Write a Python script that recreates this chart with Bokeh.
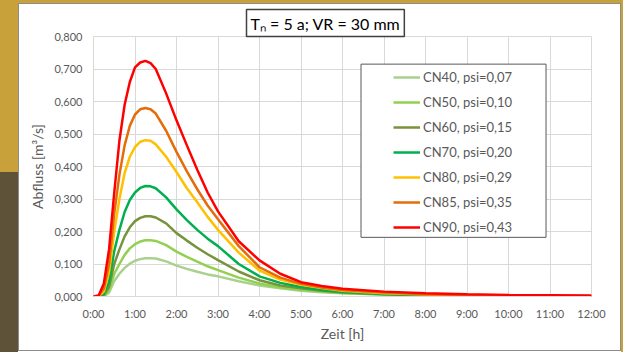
from bokeh.plotting import figure
from bokeh.models import Legend, LegendItem, FixedTicker, BoxAnnotation
from bokeh.embed import file_html
from bokeh.resources import INLINE

# ---------------- data ----------------
hours = [0, 0.125, 0.25, 0.375, 0.5, 0.625, 0.75, 0.875, 1.0, 1.125, 1.25, 1.375, 1.5,
         1.75, 2.0, 2.25, 2.5, 2.75, 3.0, 3.5, 4.0, 4.5, 5.0, 5.5, 6.0, 7.0, 8.0, 9.0,
         10.0, 11.0, 12.0]

cn40 = [0, 0, 0.001, 0.012, 0.048, 0.070, 0.088, 0.101, 0.110, 0.115, 0.118, 0.118, 0.117,
        0.108, 0.095, 0.085, 0.076, 0.068, 0.062, 0.047, 0.034, 0.025, 0.018, 0.013, 0.010,
        0.006, 0.003, 0.002, 0.001, 0, 0]
cn50 = [0, 0, 0.002, 0.020, 0.070, 0.100, 0.128, 0.148, 0.161, 0.169, 0.173, 0.173, 0.171,
        0.158, 0.138, 0.122, 0.107, 0.093, 0.081, 0.058, 0.040, 0.028, 0.021, 0.015, 0.011,
        0.006, 0.003, 0.002, 0.001, 0, 0]
cn60 = [0, 0, 0.004, 0.030, 0.100, 0.145, 0.185, 0.213, 0.232, 0.242, 0.247, 0.247, 0.243,
        0.225, 0.195, 0.172, 0.150, 0.130, 0.112, 0.077, 0.050, 0.034, 0.025, 0.018, 0.012,
        0.007, 0.004, 0.002, 0.001, 0, 0]
cn70 = [0, 0, 0.008, 0.045, 0.140, 0.205, 0.260, 0.297, 0.320, 0.334, 0.340, 0.339, 0.333,
        0.305, 0.268, 0.235, 0.205, 0.178, 0.155, 0.100, 0.062, 0.042, 0.029, 0.020, 0.014,
        0.008, 0.004, 0.002, 0.001, 0.001, 0]
cn80 = [0, 0.001, 0.015, 0.075, 0.200, 0.300, 0.380, 0.430, 0.460, 0.476, 0.481, 0.479, 0.468,
        0.430, 0.383, 0.333, 0.290, 0.245, 0.205, 0.135, 0.080, 0.052, 0.036, 0.026, 0.018,
        0.010, 0.006, 0.003, 0.002, 0.001, 0.001]
cn85 = [0, 0.002, 0.025, 0.100, 0.255, 0.375, 0.465, 0.525, 0.560, 0.576, 0.580, 0.576, 0.563,
        0.510, 0.445, 0.385, 0.330, 0.280, 0.238, 0.155, 0.090, 0.058, 0.039, 0.028, 0.020,
        0.012, 0.007, 0.004, 0.003, 0.002, 0.001]
cn90 = [0, 0.003, 0.040, 0.145, 0.320, 0.480, 0.590, 0.660, 0.705, 0.720, 0.725, 0.718, 0.700,
        0.625, 0.542, 0.465, 0.390, 0.320, 0.262, 0.170, 0.111, 0.070, 0.044, 0.032, 0.024,
        0.015, 0.010, 0.007, 0.005, 0.004, 0.003]

series_values = [cn40, cn50, cn60, cn70, cn80, cn85, cn90]
series_names = ["CN40, psi=0,07", "CN50, psi=0,10", "CN60, psi=0,15", "CN70, psi=0,20",
                "CN80, psi=0,29", "CN85, psi=0,35", "CN90, psi=0,43"]
series_colors = ["#A9D18E", "#92D050", "#77933C", "#00B050", "#FFC000", "#E46C0A", "#FF0000"]

x_ticks = list(range(13))
x_tick_labels = ["0:00", "1:00", "2:00", "3:00", "4:00", "5:00", "6:00", "7:00", "8:00",
                 "9:00", "10:00", "11:00", "12:00"]
y_ticks = [0, 0.1, 0.2, 0.3, 0.4, 0.5, 0.6, 0.7, 0.8]
y_tick_labels = ["0,000", "0,100", "0,200", "0,300", "0,400", "0,500", "0,600", "0,700", "0,800"]

title_text = "T\u2099 = 5 a; VR = 30 mm"
x_label = "Zeit [h]"
y_label = "Abfluss [m\u00b3/s]"

# ---------------- styling ----------------
FONT = "Lato"
TXT = "#595959"
GRID = "#D9D9D9"
EDGE = "#8C8C8C"
GOLD = "#C9A13A"
BROWN = "#5E5238"


def solid(c):
    return f"linear-gradient({c}, {c})"


background_layers = [
    f"{solid(EDGE)} 18px 3px / 1px 348px no-repeat",
    f"{solid(EDGE)} 18px 3px / 603px 1px no-repeat",
    f"{solid(EDGE)} 620px 3px / 1px 348px no-repeat",
    f"{solid(EDGE)} 18px 350px / 603px 1px no-repeat",
    f"linear-gradient({GOLD} 0%, {GOLD} 49%, {BROWN} 49%, {BROWN} 100%) 0 0 / 18px 100% no-repeat",
    f"{solid(GOLD)} 0 0 / 100% 3px no-repeat",
    f"{solid(GOLD)} 621px 0 / 2px 100% no-repeat",
    "white",
]

p = figure(width=623, height=352, x_range=(0, 12), y_range=(0, 0.8),
           output_backend="svg", toolbar_location=None,
           min_border_left=93, min_border_right=32, min_border_top=36, min_border_bottom=56,
           background_fill_color="white", border_fill_alpha=0,
           styles={"background": ", ".join(background_layers)})
p.outline_line_color = GRID

renderers = []
for vals, col in zip(series_values, series_colors):
    r = p.line(hours, vals, line_color=col, line_width=2.5)
    renderers.append(r)

p.xaxis.ticker = FixedTicker(ticks=x_ticks)
p.xaxis.major_label_overrides = dict(zip(x_ticks, x_tick_labels))
p.yaxis.ticker = FixedTicker(ticks=y_ticks)
p.yaxis.major_label_overrides = dict(zip(y_ticks, y_tick_labels))

for ax in (p.xaxis[0], p.yaxis[0]):
    ax.major_tick_in = 0
    ax.major_tick_out = 0
    ax.minor_tick_line_color = None
    ax.major_tick_line_color = None
    ax.major_label_text_font = FONT
    ax.major_label_text_font_size = "11px"
    ax.major_label_text_color = TXT
    ax.axis_label_text_font = FONT
    ax.axis_label_text_font_size = "14px"
    ax.axis_label_text_font_style = "normal"
    ax.axis_label_text_color = TXT
p.xaxis.axis_line_color = GRID
p.yaxis.axis_line_color = None
p.xaxis.axis_label = x_label
p.yaxis.axis_label = y_label
p.xaxis.major_label_standoff = 10
p.xaxis.axis_label_standoff = 2
p.yaxis.major_label_standoff = 11
p.yaxis.axis_label_standoff = 5

p.xgrid.grid_line_color = GRID
p.ygrid.grid_line_color = GRID

# title box
p.title.text = title_text
p.title.align = "left"
p.title.offset = 153
p.title.standoff = 0
p.title.text_font = FONT
p.title.text_font_size = "16px"
p.title.text_font_style = "normal"
p.title.text_color = "#000000"
p.title.border_line_color = "#404040"
p.title.border_line_width = 1.5
p.title.background_fill_color = "white"
p.title.padding = 4

# legend frame
box = BoxAnnotation(left=6.446, right=10.904, bottom=0.182, top=0.715,
                    fill_color="white", fill_alpha=1.0, line_color=TXT, line_width=1,
                    line_alpha=1.0)
p.add_layout(box)

legend = Legend(items=[LegendItem(label=n, renderers=[r]) for n, r in zip(series_names, renderers)],
                location=(300, 59), padding=0, margin=0, border_line_color=None,
                background_fill_alpha=0, glyph_width=27, glyph_height=20, label_height=20,
                spacing=5, label_standoff=3, label_text_font=FONT,
                label_text_font_size="13px", label_text_color=TXT)
p.add_layout(legend)

open("out.html", "w").write(file_html(p, INLINE))
